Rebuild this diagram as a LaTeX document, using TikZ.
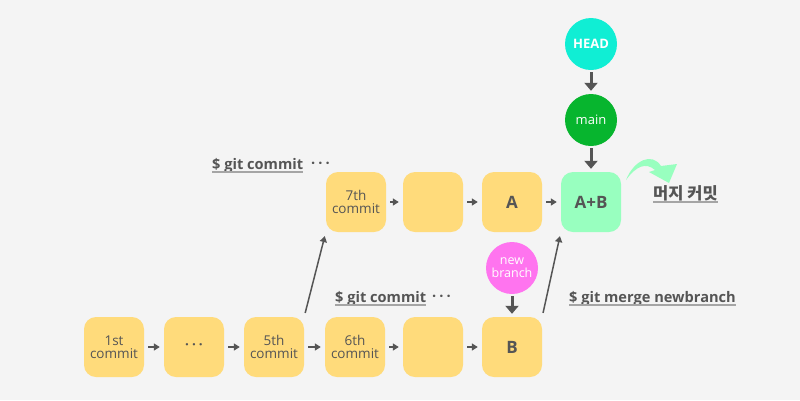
\documentclass[tikz,border=0pt]{standalone}
\usepackage{fontspec}
\usepackage{xcolor}
\setmainfont{Open Sans}
\newfontfamily\krfont{Noto Sans CJK KR}
\usetikzlibrary{arrows.meta}

\definecolor{bgcol}{HTML}{F4F4F4}
\definecolor{commityellow}{HTML}{FFDB7B}
\definecolor{mergemint}{HTML}{98FFBF}
\definecolor{headcyan}{HTML}{10EED4}
\definecolor{maingreen}{HTML}{07B52E}
\definecolor{branchpink}{HTML}{FF74EF}
\definecolor{textgray}{HTML}{555555}
\definecolor{linegray}{HTML}{A5A5A5}

\begin{document}
\begin{tikzpicture}[x=1pt, y=-1pt,
    commit/.style={fill=commityellow, rounded corners=12pt, minimum width=60pt,
      minimum height=60pt, inner sep=0pt, align=center, text=textgray,
      font=\fontsize{13.5}{13}\selectfont},
    letter/.style={font=\fontsize{17}{17}\selectfont\bfseries},
    pointer/.style={circle, minimum size=52pt, inner sep=0pt, align=center,
      text=white, font=\fontsize{12.5}{13}\selectfont},
    hop/.style={textgray, line width=2pt, shorten <=4pt, shorten >=4pt,
      -{Triangle[length=6pt,width=7pt]}},
    pointto/.style={textgray, line width=3pt, shorten <=2pt, shorten >=3pt,
      -{Triangle[length=8pt,width=13pt]}},
    cmd/.style={anchor=base west, inner sep=0pt, text=textgray,
      font=\fontsize{14.6}{14}\selectfont\bfseries},
    uline/.style={linegray, line width=2pt}]
  \fill[bgcol] (0,0) rectangle (800,400);

  % --- bottom row (newbranch) ------------------------------------------
  \node[commit] (c1) at (114,347) {1st\\commit};
  \node[commit] (c2) at (194,347) {\bfseries·\hspace{3pt}·\hspace{3pt}·};
  \node[commit] (c5) at (274,347) {5th\\commit};
  \node[commit] (c6) at (355,347) {6th\\commit};
  \node[commit] (c6b) at (433,347) {};
  \node[commit, letter] (cb) at (512,347) {B};

  % --- top row (main) --------------------------------------------------
  \node[commit] (c7) at (356,202) {7th\\commit};
  \node[commit] (c7b) at (433,202) {};
  \node[commit, letter] (ca) at (512,202) {A};
  \node[commit, letter, fill=mergemint] (cab) at (591,202) {A+B};

  \foreach \a/\b in {c1/c2, c2/c5, c5/c6, c6/c6b, c6b/cb, c7/c7b, c7b/ca, ca/cab}
    \draw[hop] (\a) -- (\b);
  \draw[hop, line width=1.5pt] (c5.north east) -- (c7.south west);
  \draw[hop, line width=1.5pt] (cb.north east) -- (cab.south west);

  % --- pointers --------------------------------------------------------
  \node[pointer, fill=headcyan, font=\fontsize{13}{13}\selectfont\bfseries]
    (head) at (591,44) {HEAD};
  \node[pointer, fill=maingreen, font=\fontsize{13}{13}\selectfont] (main) at (591,120) {main};
  \node[pointer, fill=branchpink] (nb) at (512,268) {new\\branch};
  \draw[pointto] (head) -- (main);
  \draw[pointto] (main) -- (cab);
  \draw[pointto] (nb) -- (cb);

  % --- commands --------------------------------------------------------
  \node[cmd] (gc1) at (212,169) {\$ git commit};
  \draw[uline] ([yshift=-3pt]gc1.base west) -- ([yshift=-3pt]gc1.base east);
  \node[cmd, anchor=base west] (gd1) at (311,168) {·\hspace{3pt}·\hspace{3pt}·};
  \node[cmd] (gc2) at (335,302) {\$ git commit};
  \draw[uline] ([yshift=-3pt]gc2.base west) -- ([yshift=-3pt]gc2.base east);
  \node[cmd, anchor=base west] (gd2) at (432,301) {·\hspace{3pt}·\hspace{3pt}·};
  \node[cmd] (gm) at (569,302) {\$ git merge newbranch};
  \draw[uline] ([yshift=-3pt]gm.base west) -- ([yshift=-3pt]gm.base east);

  % --- merge commit note -----------------------------------------------
  \fill[mergemint] (626,180) .. controls (634,160) and (652,152) .. (661,166)
    -- (677,164) -- (669,183) -- (649,172) -- (655,170)
    .. controls (646,162) and (636,166) .. (626,180) -- cycle;
  \node[cmd, font=\fontsize{16.5}{16}\selectfont\krfont\bfseries] (mc) at (653,199) {머지 커밋};
  \draw[uline] ([yshift=-3pt]mc.base west) -- ([yshift=-3pt]mc.base east);
\end{tikzpicture}
\end{document}
